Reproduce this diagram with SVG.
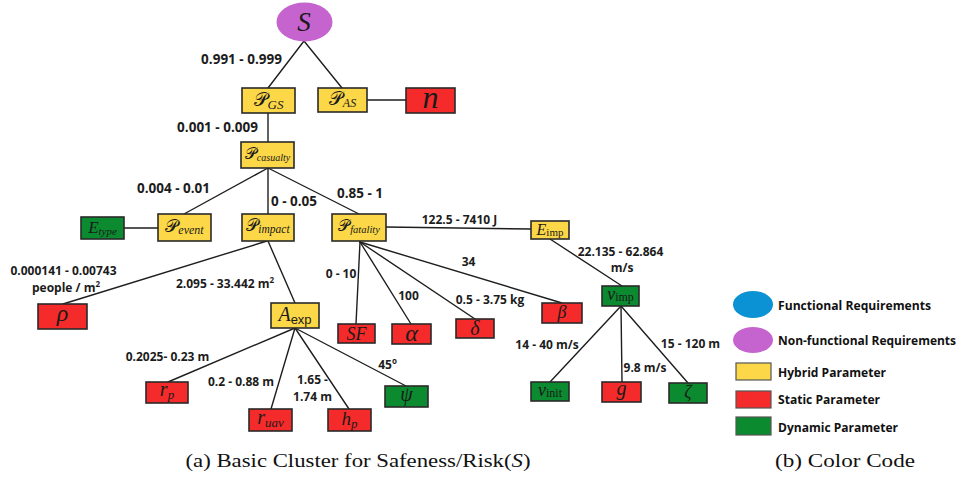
<svg xmlns="http://www.w3.org/2000/svg" width="961" height="479" viewBox="0 0 961 479">
  <style>
    .edge{stroke:#1e1e1e;stroke-width:1.4;fill:none;stroke-linecap:round}
    .box{stroke:#2a2a2a;stroke-width:1.6}
    .hy{fill:#FCD748}
    .st{fill:#F52A2A}
    .dy{fill:#0B8A2F}
    .lbl{font-family:"Open Sans","Liberation Sans",sans-serif;font-weight:700;font-size:12px;fill:#1c1c1c;text-anchor:middle}
    .big{font-size:13.5px}
    .math{font-family:"Liberation Serif","DejaVu Serif",serif;font-style:italic;fill:#1a1a1a;text-anchor:middle}
    .cal{font-family:"DejaVu Sans","DejaVu Serif","Noto Sans",serif;font-style:normal}
    .rm{font-style:normal}
    .sf{font-family:"Liberation Sans",sans-serif;font-style:normal}
    .leg{font-family:"Open Sans","Liberation Sans",sans-serif;font-weight:700;font-size:12px;fill:#111}
    .cap{font-family:"Liberation Serif",serif;font-size:18px;fill:#111;text-anchor:middle}
  </style>

  <!-- connectors -->
  <g id="connectors">
    <line class="edge" x1="304" y1="41" x2="268" y2="88"/>
    <line class="edge" x1="304" y1="41" x2="342" y2="88"/>
    <line class="edge" x1="367" y1="100" x2="406" y2="100"/>
    <line class="edge" x1="268" y1="113" x2="268" y2="142"/>
    <line class="edge" x1="268" y1="168" x2="184" y2="214"/>
    <line class="edge" x1="268" y1="168" x2="268" y2="214"/>
    <line class="edge" x1="268" y1="168" x2="359" y2="214"/>
    <line class="edge" x1="124" y1="228" x2="158" y2="228"/>
    <line class="edge" x1="267" y1="241" x2="63" y2="304"/>
    <line class="edge" x1="268" y1="241" x2="295" y2="303"/>
    <line class="edge" x1="386" y1="227" x2="531" y2="229"/>
    <line class="edge" x1="360" y1="242" x2="356" y2="324"/>
    <line class="edge" x1="360" y1="242" x2="411" y2="324"/>
    <line class="edge" x1="360" y1="242" x2="475" y2="319"/>
    <line class="edge" x1="360" y1="242" x2="562" y2="303"/>
    <line class="edge" x1="550" y1="239" x2="622" y2="286"/>
    <line class="edge" x1="295" y1="328" x2="168" y2="382"/>
    <line class="edge" x1="295" y1="328" x2="271" y2="409"/>
    <line class="edge" x1="295" y1="328" x2="349" y2="409"/>
    <line class="edge" x1="295" y1="328" x2="406" y2="386"/>
    <line class="edge" x1="621" y1="306" x2="550" y2="382"/>
    <line class="edge" x1="621" y1="306" x2="622" y2="382"/>
    <line class="edge" x1="621" y1="306" x2="688" y2="383"/>
  </g>

  <!-- connector labels -->
  <g id="edge-labels">
    <text class="lbl big" x="241.5" y="64">0.991 - 0.999</text>
    <text class="lbl big" x="217.5" y="132">0.001 - 0.009</text>
    <text class="lbl big" x="173.5" y="193">0.004 - 0.01</text>
    <text class="lbl big" x="294" y="206">0 - 0.05</text>
    <text class="lbl big" x="360" y="198">0.85 - 1</text>
    <text class="lbl" x="459.5" y="224">122.5 - 7410 J</text>
    <text class="lbl" x="63.5" y="275">0.000141 - 0.00743</text>
    <text class="lbl" x="66" y="292">people / m<tspan font-size="8" dy="-5">2</tspan></text>
    <text class="lbl" x="225" y="288" font-size="12.5">2.095 - 33.442 m<tspan font-size="8" dy="-5">2</tspan></text>
    <text class="lbl" x="620.5" y="256">22.135 - 62.864</text>
    <text class="lbl" x="622" y="272">m/s</text>
    <text class="lbl" x="468.5" y="266">34</text>
    <text class="lbl" x="341" y="278">0 - 10</text>
    <text class="lbl" x="408.5" y="300">100</text>
    <text class="lbl" x="490" y="304">0.5 - 3.75 kg</text>
    <text class="lbl" x="167.5" y="361">0.2025- 0.23 m</text>
    <text class="lbl" x="241" y="386">0.2 - 0.88 m</text>
    <text class="lbl" x="312.5" y="384">1.65 -</text>
    <text class="lbl" x="312.5" y="401">1.74 m</text>
    <text class="lbl" x="387.5" y="369">45<tspan font-size="8" dy="-5">o</tspan></text>
    <text class="lbl" x="547" y="349">14 - 40 m/s</text>
    <text class="lbl" x="645" y="372" font-size="10.5">9.8 m/s</text>
    <text class="lbl" x="690.5" y="348">15 - 120 m</text>
  </g>

  <!-- nodes -->
  <g id="n-S">
    <ellipse cx="304.5" cy="22" rx="28" ry="19.5" fill="#C664CF"/>
    <text class="math" x="304" y="31" font-size="27">S</text>
  </g>
  <g id="n-PGS">
    <rect class="box hy" x="242" y="88" width="53" height="25"/>
    <text class="math" x="268.5" y="106" font-size="19"><tspan class="cal">𝒫</tspan><tspan font-size="13" dy="3">GS</tspan></text>
  </g>
  <g id="n-PAS">
    <rect class="box hy" x="318" y="88" width="49" height="24"/>
    <text class="math" x="342.5" y="105" font-size="19"><tspan class="cal">𝒫</tspan><tspan font-size="12" dy="2">AS</tspan></text>
  </g>
  <g id="n-n">
    <rect class="box st" x="406" y="88" width="49" height="25"/>
    <text class="math" x="430.5" y="108" font-size="32">n</text>
  </g>
  <g id="n-Pcasualty">
    <rect class="box hy" x="241" y="142" width="53" height="26"/>
    <text class="math" x="267.5" y="159" font-size="16"><tspan class="cal">𝒫</tspan><tspan font-size="10" dy="2">casualty</tspan></text>
  </g>
  <g id="n-Etype">
    <rect class="box dy" x="81" y="217" width="43" height="22"/>
    <text class="math" x="102.5" y="233" font-size="17">E<tspan font-size="11" dy="2">type</tspan></text>
  </g>
  <g id="n-Pevent">
    <rect class="box hy" x="158" y="214" width="53" height="27"/>
    <text class="math" x="184.5" y="232" font-size="18"><tspan class="cal">𝒫</tspan><tspan font-size="12" dy="2">event</tspan></text>
  </g>
  <g id="n-Pimpact">
    <rect class="box hy" x="242" y="214" width="52" height="27"/>
    <text class="math" x="268" y="231" font-size="17"><tspan class="cal">𝒫</tspan><tspan font-size="11.5" dy="2">impact</tspan></text>
  </g>
  <g id="n-Pfatality">
    <rect class="box hy" x="332" y="214" width="54" height="27"/>
    <text class="math" x="359" y="231" font-size="16"><tspan class="cal">𝒫</tspan><tspan font-size="10.5" dy="2">fatality</tspan></text>
  </g>
  <g id="n-Eimp">
    <rect class="box hy" x="531" y="221" width="38" height="18"/>
    <text class="math" x="550" y="235" font-size="16">E<tspan class="rm" font-size="11" dy="1">imp</tspan></text>
  </g>
  <g id="n-rho">
    <rect class="box st" x="38" y="304" width="49" height="25"/>
    <text class="math" x="62.5" y="321" font-size="24">ρ</text>
  </g>
  <g id="n-Aexp">
    <rect class="box hy" x="271" y="303" width="48" height="25"/>
    <text class="math" x="295" y="321" font-size="20">A<tspan class="sf" font-size="13" dy="3">exp</tspan></text>
  </g>
  <g id="n-SF">
    <rect class="box st" x="338" y="324" width="37" height="19"/>
    <text class="math" x="356.5" y="340" font-size="18">SF</text>
  </g>
  <g id="n-alpha">
    <rect class="box st" x="392" y="324" width="39" height="20"/>
    <text class="math" x="411.5" y="341" font-size="24">α</text>
  </g>
  <g id="n-delta">
    <rect class="box st" x="456" y="319" width="38" height="19"/>
    <text class="math" x="475" y="335" font-size="20">δ</text>
  </g>
  <g id="n-beta">
    <rect class="box st" x="542" y="303" width="40" height="20"/>
    <text class="math" x="562" y="318" font-size="18" fill="#a81818">β</text>
  </g>
  <g id="n-vimp">
    <rect class="box dy" x="602" y="286" width="37" height="20"/>
    <text class="math" x="620.5" y="300" font-size="18">v<tspan class="rm" font-size="12" dy="1">imp</tspan></text>
  </g>
  <g id="n-rp">
    <rect class="box st" x="146" y="382" width="42" height="21"/>
    <text class="math" x="167" y="396" font-size="20">r<tspan font-size="13" dy="3">p</tspan></text>
  </g>
  <g id="n-ruav">
    <rect class="box st" x="249" y="409" width="43" height="22"/>
    <text class="math" x="270.5" y="424" font-size="20">r<tspan font-size="13" dy="3">uav</tspan></text>
  </g>
  <g id="n-hp">
    <rect class="box st" x="328" y="409" width="43" height="22"/>
    <text class="math" x="349.5" y="425" font-size="19">h<tspan font-size="13" dy="3">p</tspan></text>
  </g>
  <g id="n-psi">
    <rect class="box dy" x="385" y="386" width="43" height="21"/>
    <text class="math" x="406.5" y="401" font-size="20" fill="#0c5a1c">ψ</text>
  </g>
  <g id="n-vinit">
    <rect class="box dy" x="531" y="382" width="38" height="19"/>
    <text class="math" x="550" y="396" font-size="18">v<tspan class="rm" font-size="12" dy="1">init</tspan></text>
  </g>
  <g id="n-g">
    <rect class="box st" x="602" y="382" width="39" height="20"/>
    <text class="math" x="621.5" y="395" font-size="20" fill="#a01010">g</text>
  </g>
  <g id="n-zeta">
    <rect class="box dy" x="669" y="383" width="38" height="20"/>
    <text class="math" x="688" y="398" font-size="18" fill="#0c5a1c">ζ</text>
  </g>

  <!-- colour legend -->
  <g id="legend">
    <ellipse cx="753" cy="304.5" rx="20" ry="13.5" fill="#0A92D4"/>
    <ellipse cx="753" cy="340" rx="20" ry="13" fill="#C664CF"/>
    <rect x="736" y="363" width="35" height="17" fill="#FCD748" stroke="#555" stroke-width="1.2"/>
    <rect x="736" y="391" width="35" height="17" fill="#F52A2A" stroke="#555" stroke-width="1.2"/>
    <rect x="736" y="417" width="35" height="18" fill="#0B8A2F" stroke="#555" stroke-width="1.2"/>
    <text class="leg" x="778" y="309.5" textLength="153" lengthAdjust="spacingAndGlyphs">Functional Requirements</text>
    <text class="leg" x="778" y="344.5" textLength="178" lengthAdjust="spacingAndGlyphs">Non-functional Requirements</text>
    <text class="leg" x="778" y="376.5" textLength="108" lengthAdjust="spacingAndGlyphs">Hybrid Parameter</text>
    <text class="leg" x="778" y="403.5" textLength="102" lengthAdjust="spacingAndGlyphs">Static Parameter</text>
    <text class="leg" x="778" y="431.5" textLength="120" lengthAdjust="spacingAndGlyphs">Dynamic Parameter</text>
  </g>

  <!-- captions -->
  <g id="captions">
    <text class="cap" x="358" y="467" textLength="345" lengthAdjust="spacingAndGlyphs">(a) Basic Cluster for Safeness/Risk(<tspan font-style="italic">S</tspan>)</text>
    <text class="cap" x="845" y="467" textLength="140" lengthAdjust="spacingAndGlyphs">(b) Color Code</text>
  </g>
</svg>
